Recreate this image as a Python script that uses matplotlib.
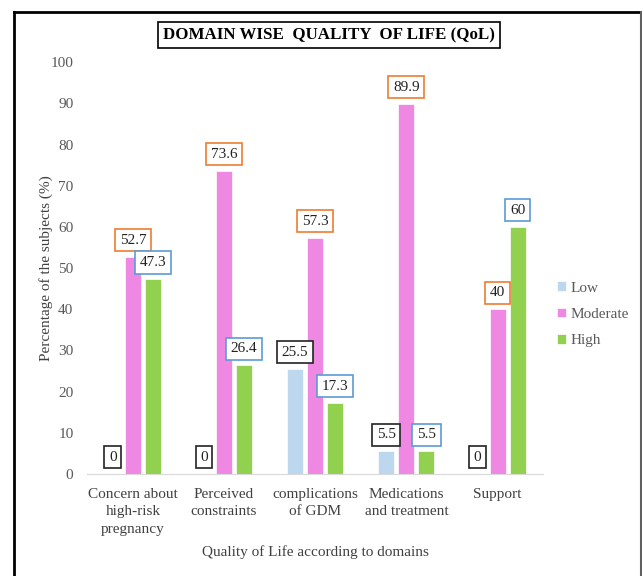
import numpy as np
import matplotlib.pyplot as plt
from matplotlib.lines import Line2D

# domain wise QoL distribution
domains = ['Concern about\nhigh-risk\npregnancy', 'Perceived\nconstraints',
           'complications\nof GDM', 'Medications\nand treatment', 'Support']
low = [0, 0, 25.5, 5.5, 0]
moderate = [52.7, 73.6, 57.3, 89.9, 40]
high = [47.3, 26.4, 17.3, 5.5, 60]
series_names = ['Low', 'Moderate', 'High']
yticks = list(range(0, 101, 10))

plt.rcParams['font.family'] = ['Liberation Serif', 'DejaVu Serif']

fig = plt.figure(figsize=(6.42, 5.76), dpi=100)
ax = fig.add_axes([0.136, 0.177, 0.71, 0.715])

x = np.arange(len(domains))
w = 0.176
step = 0.22
colors = ['#BDD7EE', '#EE88E3', '#92D050']
edges = ['#222222', '#ED7D31', '#5B9BD5']

for i, (vals, name) in enumerate(zip([low, moderate, high], series_names)):
    pos = x + (i - 1) * step
    bars = ax.bar(pos, vals, w, color=colors[i], label=name, edgecolor='white', linewidth=0.5)
    for p, v in zip(pos, vals):
        ax.annotate(f'{v:g}', (p, v), xytext=(0, 12), textcoords='offset points',
                    ha='center', va='center', fontsize=11, color='#222222',
                    bbox=dict(boxstyle='square,pad=0.3', fc='white', ec=edges[i], lw=1.2))

ax.set_xlim(-0.5, len(domains) - 0.5)
ax.set_ylim(0, 100)
ax.set_yticks(yticks)
ax.set_xticks(x)
ax.set_xticklabels(domains, fontsize=11, color='#404040', linespacing=1.45)
ax.tick_params(axis='y', labelsize=11, labelcolor='#595959', length=0, pad=10)
ax.tick_params(axis='x', length=0, pad=10)
for s in ['top', 'right', 'left']:
    ax.spines[s].set_visible(False)
ax.spines['bottom'].set_color('#D9D9D9')

ax.set_ylabel('Percentage of the subjects (%)', fontsize=11, color='#404040', labelpad=-2)
ax.set_xlabel('Quality of Life according to domains', fontsize=11, color='#404040', labelpad=7)

ax.legend(loc='center left', bbox_to_anchor=(1.0, 0.388), frameon=False, fontsize=11,
          handlelength=0.6, handleheight=0.6, handletextpad=0.3, labelspacing=0.85,
          labelcolor='#595959')

fig.text(0.512, 0.939, 'DOMAIN WISE  QUALITY  OF LIFE (QoL)', ha='center', va='center',
         fontsize=12.2, fontweight='bold', color='black',
         bbox=dict(boxstyle='square,pad=0.3', fc='white', ec='black', lw=1.2))

# outer frame
fig.add_artist(Line2D([0.0218, 0.0218], [0.0, 0.979], color='black', lw=2, transform=fig.transFigure))
fig.add_artist(Line2D([0.0218, 1.0], [0.979, 0.979], color='black', lw=2, transform=fig.transFigure))
fig.add_artist(Line2D([0.998, 0.998], [0.0, 0.979], color='#606060', lw=1.5, transform=fig.transFigure))

fig.savefig('out.png', dpi=100)
